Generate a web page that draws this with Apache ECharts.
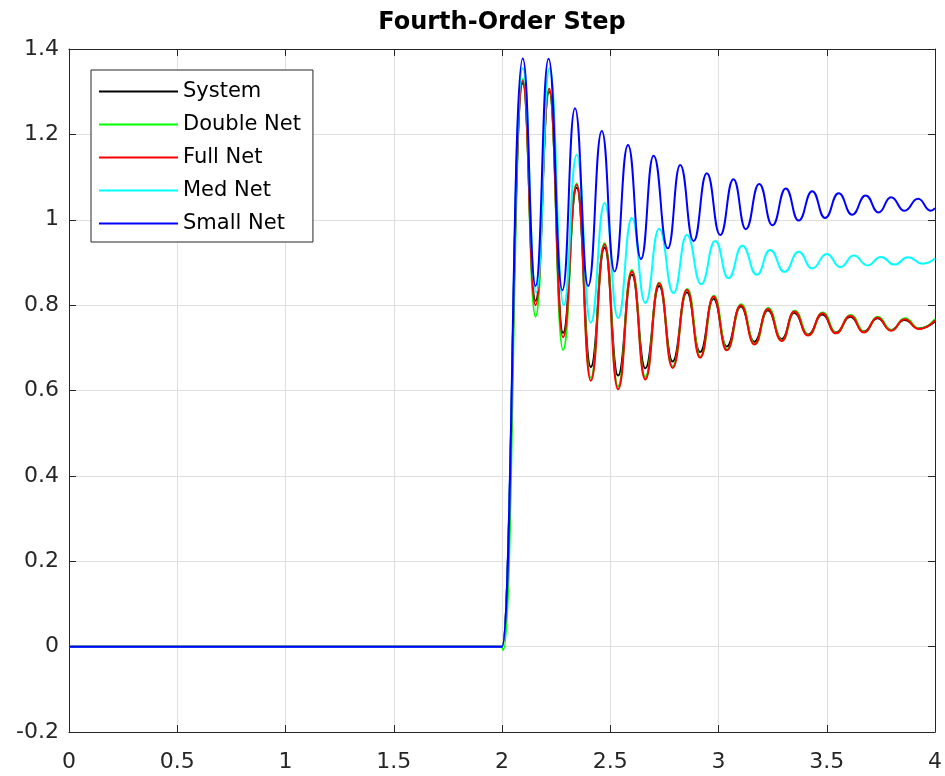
<!DOCTYPE html>
<html>
<head>
<meta charset="utf-8">
<script src="https://cdn.jsdelivr.net/npm/echarts@6/dist/echarts.min.js"></script>
<style>
  html, body { margin: 0; padding: 0; background: #ffffff; }
  #chart { width: 945px; height: 776px; }
</style>
</head>
<body>
<div id="chart"></div>
<script>
// ---- data (time, response) : extrema of each curve ----
const xTicks = [0, 0.5, 1, 1.5, 2, 2.5, 3, 3.5, 4];
const yTicks = [-0.2, 0, 0.2, 0.4, 0.6, 0.8, 1, 1.2, 1.4];
const seriesNames = ['System', 'Double Net', 'Full Net', 'Med Net', 'Small Net'];

const systemPts = [
  [0, 0], [2.0, 0],
  [2.096, 1.32], [2.155, 0.81], [2.218, 1.30], [2.282, 0.735], [2.345, 1.075], [2.41, 0.655],
  [2.474, 0.935], [2.536, 0.635], [2.60, 0.872], [2.662, 0.652], [2.726, 0.845], [2.788, 0.668],
  [2.854, 0.83], [2.915, 0.69], [2.977, 0.815], [3.038, 0.703], [3.103, 0.797], [3.166, 0.714],
  [3.228, 0.788], [3.292, 0.72], [3.35, 0.782], [3.414, 0.731], [3.48, 0.778], [3.542, 0.736],
  [3.609, 0.773], [3.672, 0.738], [3.734, 0.769], [3.797, 0.742], [3.859, 0.765], [3.927, 0.745],
  [4.0, 0.762]
];
const doubleNetPts = [
  [0, 0], [2.0, 0], [2.006, -0.008],
  [2.096, 1.33], [2.155, 0.773], [2.218, 1.305], [2.282, 0.695], [2.345, 1.085], [2.41, 0.63],
  [2.474, 0.945], [2.536, 0.61], [2.60, 0.882], [2.662, 0.632], [2.726, 0.853], [2.788, 0.656],
  [2.856, 0.838], [2.917, 0.679], [2.979, 0.822], [3.04, 0.696], [3.105, 0.802], [3.168, 0.709],
  [3.23, 0.793], [3.294, 0.717], [3.352, 0.787], [3.416, 0.73], [3.482, 0.783], [3.544, 0.735],
  [3.611, 0.777], [3.674, 0.737], [3.736, 0.773], [3.799, 0.741], [3.861, 0.769], [3.929, 0.745],
  [4.0, 0.767]
];
const fullNetPts = [
  [0, 0], [2.0, 0],
  [2.096, 1.325], [2.155, 0.80], [2.218, 1.307], [2.282, 0.725], [2.345, 1.082], [2.41, 0.623],
  [2.474, 0.942], [2.536, 0.603], [2.60, 0.879], [2.662, 0.626], [2.726, 0.851], [2.788, 0.653],
  [2.854, 0.836], [2.915, 0.677], [2.977, 0.82], [3.038, 0.694], [3.103, 0.80], [3.166, 0.708],
  [3.228, 0.791], [3.292, 0.716], [3.35, 0.785], [3.414, 0.729], [3.48, 0.781], [3.542, 0.734],
  [3.609, 0.775], [3.672, 0.736], [3.734, 0.771], [3.797, 0.74], [3.859, 0.767], [3.927, 0.744],
  [4.0, 0.764]
];
const medNetPts = [
  [0, 0], [2.0, 0],
  [2.096, 1.355], [2.158, 0.83], [2.22, 1.355], [2.285, 0.80], [2.345, 1.152], [2.41, 0.759],
  [2.474, 1.039], [2.536, 0.770], [2.60, 1.004], [2.662, 0.805], [2.726, 0.979], [2.792, 0.828],
  [2.854, 0.964], [2.92, 0.849], [2.985, 0.95], [3.046, 0.863], [3.11, 0.939], [3.177, 0.871],
  [3.238, 0.929], [3.305, 0.878], [3.37, 0.925], [3.433, 0.886], [3.5, 0.92], [3.563, 0.889],
  [3.625, 0.916], [3.688, 0.893], [3.75, 0.913], [3.8125, 0.895], [3.875, 0.912], [3.942, 0.897],
  [4.0, 0.909]
];
const smallNetPts = [
  [0, 0], [2.0, 0],
  [2.096, 1.378], [2.155, 0.845], [2.215, 1.377], [2.279, 0.835], [2.337, 1.261], [2.398, 0.845],
  [2.461, 1.208], [2.52, 0.879], [2.582, 1.175], [2.642, 0.908], [2.70, 1.15], [2.766, 0.933],
  [2.823, 1.128], [2.885, 0.95], [2.946, 1.109], [3.008, 0.964], [3.069, 1.095], [3.126, 0.978],
  [3.188, 1.084], [3.249, 0.987], [3.311, 1.073], [3.37, 0.998], [3.433, 1.067], [3.492, 1.004],
  [3.555, 1.062], [3.617, 1.012], [3.68, 1.057], [3.739, 1.017], [3.797, 1.053], [3.859, 1.021],
  [3.922, 1.049], [3.98, 1.021], [4.0, 1.027]
];
const seriesColors = ['#000000', '#00ff00', '#ff0000', '#00ffff', '#0000ff'];
const seriesData = [systemPts, doubleNetPts, fullNetPts, medNetPts, smallNetPts];

// ---- chart ----
const FONT = 'DejaVu Sans';
const AXIS_COLOR = '#262626';
const GRID_COLOR = '#dfdfdf';
const xMin = xTicks[0], xMax = xTicks[xTicks.length - 1], xStep = xTicks[1] - xTicks[0];
const yMin = yTicks[0], yMax = yTicks[yTicks.length - 1], yStep = 0.2;

const chart = echarts.init(document.getElementById('chart'), null, { renderer: 'canvas' });

function baseAxis(extra) {
  return Object.assign({
    type: 'value',
    axisLine: { show: true, onZero: false, lineStyle: { color: AXIS_COLOR, width: 1 } },
    axisTick: { show: true, inside: true, length: 7, lineStyle: { color: AXIS_COLOR } },
    splitLine: { show: false },
    axisLabel: { show: false }
  }, extra);
}

const option = {
  animation: false,
  backgroundColor: '#ffffff',
  title: {
    text: 'Fourth-Order Step',
    left: 502,
    top: 11,
    textAlign: 'center',
    padding: 0,
    textStyle: { fontFamily: FONT, fontSize: 24, fontWeight: 'bold', color: '#000000' }
  },
  grid: { left: 69, right: 9, top: 49, bottom: 44, containLabel: false },
  legend: {
    orient: 'vertical',
    left: 91,
    top: 70,
    data: seriesNames.map(n => ({ name: n, icon: 'rect' })),
    backgroundColor: '#ffffff',
    borderColor: AXIS_COLOR,
    borderWidth: 1,
    borderRadius: 0,
    padding: [11, 12, 8, 8],
    itemWidth: 79,
    itemHeight: 2,
    itemGap: 12,
    textStyle: { fontFamily: FONT, fontSize: 21, color: '#000000' }
  },
  xAxis: [
    baseAxis({
      min: xMin, max: xMax, interval: xStep,
      position: 'bottom',
      splitLine: { show: true, lineStyle: { color: GRID_COLOR, width: 1 } },
      axisLabel: {
        show: true, margin: 19, fontFamily: FONT, fontSize: 22, color: AXIS_COLOR,
        formatter: v => String(+v.toFixed(2))
      }
    }),
    baseAxis({ min: xMin, max: xMax, interval: xStep, position: 'top' })
  ],
  yAxis: [
    baseAxis({
      min: yMin, max: yMax, interval: yStep,
      position: 'left',
      splitLine: { show: true, lineStyle: { color: GRID_COLOR, width: 1 } },
      axisLabel: {
        show: true, margin: 10, fontFamily: FONT, fontSize: 22, color: AXIS_COLOR,
        formatter: v => String(+v.toFixed(2))
      }
    }),
    baseAxis({ min: yMin, max: yMax, interval: yStep, position: 'right' })
  ],
  series: seriesNames.map((name, i) => ({
    name: name,
    type: 'line',
    xAxisIndex: 0,
    yAxisIndex: 0,
    data: seriesData[i],
    showSymbol: false,
    symbol: 'none',
    smooth: 0.5,
    smoothMonotone: 'x',
    clip: true,
    color: seriesColors[i],
    lineStyle: { color: seriesColors[i], width: 2 },
    itemStyle: { color: seriesColors[i] },
    emphasis: { disabled: true }
  }))
};

chart.setOption(option);
</script>
</body>
</html>
